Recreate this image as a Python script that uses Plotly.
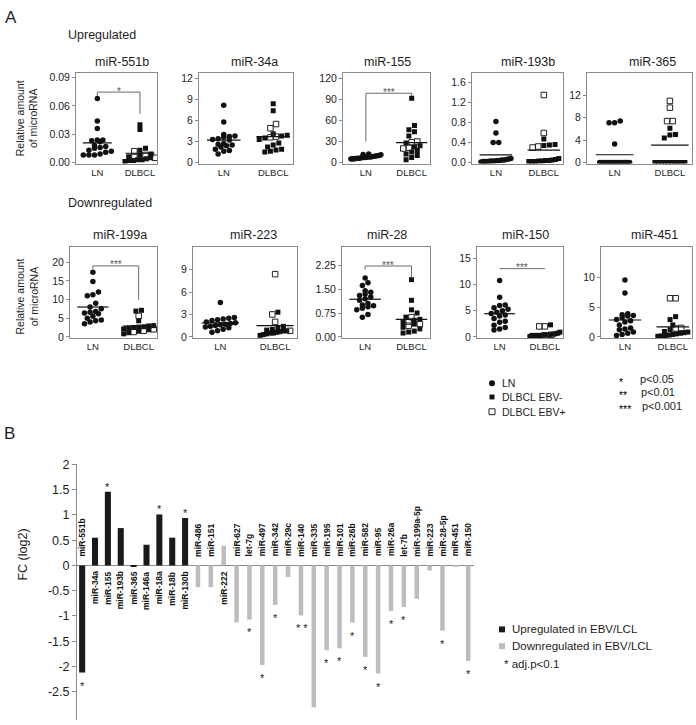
import numpy as np
import plotly.graph_objects as go

W, H = 696, 725
FONT = "Arial, Liberation Sans, sans-serif"
TXT = "#1e1e1e"
FRAME = "#8a8a8a"

# ------------------------------------------------------------------ data (panel A)
panel_names = ["miR-551b", "miR-34a", "miR-155", "miR-193b", "miR-365",
               "miR-199a", "miR-223", "miR-28", "miR-150", "miR-451"]

ln_551b = [0.068, 0.044, 0.036, 0.024, 0.024, 0.023, 0.022, 0.018, 0.017, 0.016, 0.015, 0.013, 0.012, 0.011, 0.009, 0.008, 0.008, 0.008]
neg_551b = [0.040, 0.035, 0.015, 0.013, 0.009, 0.008, 0.006, 0.005, 0.004, 0.003, 0.003, 0.002, 0.002, 0.001]
pos_551b = [0.012, 0.008, 0.006, 0.005]

ln_34a = [8.2, 5.8, 4.0, 3.8, 3.7, 3.6, 3.4, 3.3, 3.2, 2.7, 2.6, 2.5, 2.4, 2.2, 1.9, 1.7, 1.6, 1.2]
neg_34a = [8.4, 7.4, 4.1, 3.9, 3.8, 3.5, 3.3, 2.8, 2.5, 2.2, 1.9, 1.8, 1.6, 1.5]
pos_34a = [5.5, 4.9, 3.7, 3.6]

ln_155 = [12, 11.5, 11, 10, 9.5, 9, 8.5, 8, 8, 7.5, 7, 7, 6.5, 6, 6, 5.5, 5, 5]
neg_155 = [92, 53, 47, 44, 38, 28, 24, 22, 17, 15, 12, 10, 7, 4]
pos_155 = [30, 29, 21, 20]

ln_193b = [0.82, 0.59, 0.40, 0.40, 0.08, 0.07, 0.06, 0.05, 0.05, 0.04, 0.04, 0.03, 0.03, 0.03, 0.02, 0.02, 0.02, 0.01]
neg_193b = [0.47, 0.36, 0.35, 0.34, 0.08, 0.06, 0.05, 0.04, 0.04, 0.03, 0.03, 0.02, 0.02, 0.02]
pos_193b = [1.35, 0.59, 0.32, 0.30]

ln_365 = [7.4, 7.1, 7.1, 3.3, 0, 0, 0, 0, 0, 0, 0, 0, 0, 0, 0, 0, 0, 0]
neg_365 = [6.1, 5.0, 4.9, 4.4, 0, 0, 0, 0, 0, 0, 0, 0, 0, 0]
pos_365 = [11.0, 9.8, 7.4, 7.4]

ln_199a = [17.3, 14.8, 12.0, 11.3, 11.0, 9.0, 8.0, 7.5, 6.8, 6.6, 6.4, 6.2, 5.5, 5.0, 4.5, 4.3, 4.0, 3.5]
neg_199a = [7.1, 6.9, 4.3, 3.0, 2.9, 2.7, 2.6, 2.5, 2.3, 2.1, 1.9, 1.5, 1.1, 0.8]
pos_199a = [5.6, 2.0, 1.6, 1.3]

ln_223 = [4.6, 2.6, 2.5, 2.4, 2.3, 2.2, 2.0, 1.9, 1.8, 1.7, 1.6, 1.5, 1.4, 1.3, 1.2, 1.0, 0.8, 0.6]
neg_223 = [3.3, 1.4, 1.2, 1.0, 0.9, 0.8, 0.8, 0.7, 0.6, 0.5, 0.5, 0.4, 0.3, 0.2]
pos_223 = [8.4, 3.0, 2.0, 0.8]

ln_28 = [1.85, 1.70, 1.62, 1.45, 1.40, 1.35, 1.30, 1.25, 1.20, 1.15, 1.05, 1.00, 0.98, 0.95, 0.90, 0.85, 0.70, 0.62]
neg_28 = [1.80, 1.15, 0.85, 0.75, 0.62, 0.55, 0.52, 0.45, 0.40, 0.30, 0.25, 0.18, 0.15, 0.12]
pos_28 = [0.62, 0.48, 0.40, 0.35]

ln_150 = [10.8, 7.6, 6.1, 6.0, 5.6, 5.3, 5.0, 4.7, 4.5, 4.2, 4.0, 3.5, 3.0, 2.8, 2.2, 1.8, 1.5, 1.3]
neg_150 = [2.3, 0.9, 0.7, 0.6, 0.5, 0.4, 0.35, 0.3, 0.25, 0.2, 0.15, 0.1, 0.1, 0.05]
pos_150 = [2.0, 2.0, 0.4, 0.3]

ln_451 = [9.6, 7.4, 3.9, 3.7, 3.6, 3.5, 3.2, 2.9, 2.7, 2.5, 2.0, 1.5, 1.3, 1.2, 0.8, 0.6, 0.4, 0.2]
neg_451 = [3.4, 2.9, 2.0, 1.2, 0.9, 0.8, 0.7, 0.6, 0.5, 0.4, 0.3, 0.2, 0.15, 0.1]
pos_451 = [6.5, 6.5, 1.5, 1.4]

panel_data = [
    (ln_551b, neg_551b, pos_551b), (ln_34a, neg_34a, pos_34a), (ln_155, neg_155, pos_155),
    (ln_193b, neg_193b, pos_193b), (ln_365, neg_365, pos_365), (ln_199a, neg_199a, pos_199a),
    (ln_223, neg_223, pos_223), (ln_28, neg_28, pos_28), (ln_150, neg_150, pos_150),
    (ln_451, neg_451, pos_451),
]

# tick labels for panel A
ytick_vals = [
    [0, 0.03, 0.06, 0.09], [0, 3, 6, 9, 12], [0, 30, 60, 90, 120], [0, 0.4, 0.8, 1.2, 1.6], [0, 4, 8, 12],
    [0, 5, 10, 15, 20], [0, 3, 6, 9], [0, 0.75, 1.5, 2.25], [0, 5, 10, 15], [0, 5, 10],
]
ytick_text = [
    ["0.00", "0.03", "0.06", "0.09"], ["0", "3", "6", "9", "12"], ["0", "30", "60", "90", "120"],
    ["0.0", "0.4", "0.8", "1.2", "1.6"], ["0", "4", "8", "12"],
    ["0", "5", "10", "15", "20"], ["0", "3", "6", "9"], ["0.00", "0.75", "1.50", "2.25"],
    ["0", "5", "10", "15"], ["0", "5", "10"],
]
group_labels = ["LN", "DLBCL"]

# ------------------------------------------------------------------ data (panel B)
bar_names = ["miR-551b", "miR-34a", "miR-155", "miR-193b", "miR-365", "miR-146a", "miR-18a", "miR-18b",
             "miR-130b", "miR-486", "miR-151", "miR-222", "miR-627", "let-7g", "miR-497", "miR-342",
             "miR-29c", "miR-140", "miR-335", "miR-195", "miR-101", "miR-26b", "miR-582", "miR-95",
             "miR-26a", "let-7b", "miR-199a-5p", "miR-223", "miR-28-5p", "miR-451", "miR-150"]
bar_fc = [-2.12, 0.55, 1.46, 0.74, -0.03, 0.41, 1.01, 0.55, 0.94, -0.43, -0.43, 0.39, -1.13, -1.07,
          -1.97, -0.78, -0.23, -0.99, -2.81, -1.68, -1.64, -1.13, -1.81, -2.14, -0.90, -0.82, -0.66,
          -0.10, -1.29, -0.03, -1.89]
bar_dir = ["up"] * 9 + ["down"] * 22
bar_sig = ["*", "", "*", "", "", "", "*", "", "*", "", "", "", "", "*", "*", "*", "", "* *", "",
           "*", "*", "*", "*", "*", "*", "*", "", "", "*", "", "*"]
bar_yticks = [2, 1.5, 1, 0.5, 0, -0.5, -1, -1.5, -2, -2.5]
bar_yticktext = ["2", "1.5", "1", "0.5", "0", "-0.5", "-1", "-1.5", "-2", "-2.5"]

# ------------------------------------------------------------------ layout config (pixels)
def pxx(x):
    return x / W


def pxy(y):
    return 1 - y / H


boxes = [  # x0, x1, y0(top), y1(bottom)
    (76, 157, 68, 160), (199, 293, 68, 160), (343, 430, 68, 160), (472, 563, 68, 160), (587, 692, 68, 160),
    (70, 157, 245, 337), (193, 297, 245, 337), (342, 430, 245, 337), (477, 563, 245, 337), (601, 692, 245, 337),
]
ytops = [0.095, 12.8, 128, 1.79, 16.0, 24, 12, 2.82, 17.2, 15.1]
title_x = [122, 254, 387, 528, 652, 120, 253, 387, 525, 654]
title_y = [57, 57, 57, 57, 57, 233, 233, 233, 233, 233]
brackets = {  # panel index: (left leg bottom, top, right leg bottom, label)
    0: (0.0705, 0.0747, 0.0516, "*"),
    2: (30, 99, 95, "***"),
    5: (18.2, 19.0, 9.9, "***"),
    7: (2.12, 2.23, 1.85, "***"),
    8: (13.1, 13.1, 13.1, "***"),
}
XR = [-0.5, 1.4]


def swarm(vals, ppu_y, ppu_x, max_w=30.0, step=5.6, row_h=4.6):
    vals = np.asarray(vals, float)
    order = np.argsort(vals, kind="stable")
    offs = np.zeros(len(vals))
    rows, cur, start = [], [], None
    for i in order:
        v = vals[i]
        if cur and (v - start) * ppu_y > row_h:
            rows.append(cur)
            cur = []
        if not cur:
            start = v
        cur.append(i)
    if cur:
        rows.append(cur)
    for r in rows:
        n = len(r)
        s = step if n == 1 else min(step, max_w / (n - 1))
        for j, i in enumerate(r):
            offs[i] = (j - (n - 1) / 2) * s / ppu_x
    return offs


fig = go.Figure()
layout = dict(
    width=W, height=H, margin=dict(l=0, r=0, t=0, b=0), showlegend=False,
    paper_bgcolor="white", plot_bgcolor="white", font=dict(family=FONT, color=TXT),
)
annotations = []
shapes = []

for k in range(10):
    ax = k + 1
    x0, x1, y0, y1 = boxes[k]
    lo = -0.012 * ytops[k]
    hi = ytops[k]
    ppu_y = (y1 - y0) / (hi - lo)
    ppu_x = (x1 - x0) / (XR[1] - XR[0])
    ln, neg, pos = panel_data[k]
    dl = list(neg) + list(pos)
    kinds = ["neg"] * len(neg) + ["pos"] * len(pos)
    off_ln = swarm(ln, ppu_y, ppu_x)
    off_dl = swarm(dl, ppu_y, ppu_x)
    xa, ya = f"x{ax}", f"y{ax}"

    fig.add_trace(go.Scatter(x=0 + off_ln, y=ln, mode="markers", xaxis=xa, yaxis=ya,
                             marker=dict(symbol="circle", size=5.5, color="#111"), hoverinfo="y"))
    dl_arr = np.array(dl)
    kinds = np.array(kinds)
    fig.add_trace(go.Scatter(x=1 + off_dl[kinds == "neg"], y=dl_arr[kinds == "neg"], mode="markers",
                             xaxis=xa, yaxis=ya, marker=dict(symbol="square", size=5, color="#111"),
                             hoverinfo="y"))
    fig.add_trace(go.Scatter(x=1 + off_dl[kinds == "pos"], y=dl_arr[kinds == "pos"], mode="markers",
                             xaxis=xa, yaxis=ya,
                             marker=dict(symbol="square-open", size=5.5, color="#222",
                                         line=dict(width=1, color="#222")), hoverinfo="y"))
    for gx, vals in ((0, ln), (1, dl)):
        m = float(np.mean(vals))
        fig.add_trace(go.Scatter(x=[gx - 0.34, gx + 0.34], y=[m, m], mode="lines", xaxis=xa, yaxis=ya,
                                 line=dict(color="#111", width=1.2), hoverinfo="skip"))

    layout[f"xaxis{ax}"] = dict(
        domain=[pxx(x0), pxx(x1)], anchor=ya, range=XR, tickvals=[0, 1], ticktext=group_labels,
        showline=True, mirror=True, linecolor=FRAME, linewidth=1, ticks="", showgrid=False,
        zeroline=False, tickfont=dict(size=9.5, color=TXT, family=FONT), fixedrange=True)
    layout[f"yaxis{ax}"] = dict(
        domain=[pxy(y1), pxy(y0)], anchor=xa, range=[lo, hi], tickvals=ytick_vals[k],
        ticktext=ytick_text[k], showline=True, mirror=True, linecolor=FRAME, linewidth=1,
        ticks="outside", ticklen=3, tickcolor=FRAME, showgrid=False, zeroline=False,
        tickfont=dict(size=10.5, color=TXT, family=FONT), fixedrange=True)

    annotations.append(dict(text=panel_names[k], x=pxx(title_x[k]), y=pxy(title_y[k]), xref="paper",
                            yref="paper", showarrow=False, font=dict(size=12.5, color=TXT),
                            xanchor="center", yanchor="middle"))

    if k in brackets:
        lb, top, rb, lab = brackets[k]
        shapes.append(dict(type="path", xref=xa, yref=ya,
                           path=f"M 0,{lb} L 0,{top} L 1,{top} L 1,{rb}",
                           line=dict(color="#6a6a6a", width=1)))
        annotations.append(dict(text=lab, x=0.5, y=top, xref=xa, yref=ya, showarrow=False,
                                yanchor="middle", xanchor="center", yshift=1,
                                font=dict(size=10, color="#555")))

# y-axis titles panel A
for yc in (114, 295):
    annotations.append(dict(text="Relative amount<br>of microRNA", x=pxx(27), y=pxy(yc), xref="paper",
                            yref="paper", showarrow=False, textangle=-90, font=dict(size=10.5, color=TXT),
                            xanchor="center", yanchor="middle"))

# section labels
annotations += [
    dict(text="A", x=pxx(3), y=pxy(12), xref="paper", yref="paper", showarrow=False, xanchor="left",
         yanchor="middle", font=dict(size=17, color=TXT)),
    dict(text="B", x=pxx(2), y=pxy(434), xref="paper", yref="paper", showarrow=False, xanchor="left",
         yanchor="middle", font=dict(size=17, color=TXT)),
    dict(text="Upregulated", x=pxx(66), y=pxy(29), xref="paper", yref="paper", showarrow=False,
         xanchor="left", yanchor="middle", font=dict(size=12.5, color=TXT)),
    dict(text="Downregulated", x=pxx(66), y=pxy(200), xref="paper", yref="paper", showarrow=False,
         xanchor="left", yanchor="middle", font=dict(size=12.5, color=TXT)),
]

# legend panel A
leg_items = [("LN", 383), ("DLBCL EBV-", 397), ("DLBCL EBV+", 412)]
for txt, yy in leg_items:
    annotations.append(dict(text=txt, x=pxx(500), y=pxy(yy), xref="paper", yref="paper", showarrow=False,
                            xanchor="left", yanchor="middle", font=dict(size=10.5, color=TXT)))
shapes.append(dict(type="circle", xref="paper", yref="paper", x0=pxx(489), x1=pxx(495), y0=pxy(386),
                   y1=pxy(380), fillcolor="#111", line=dict(width=0)))
shapes.append(dict(type="rect", xref="paper", yref="paper", x0=pxx(489.5), x1=pxx(494.5), y0=pxy(399.5),
                   y1=pxy(394.5), fillcolor="#111", line=dict(width=0)))
shapes.append(dict(type="rect", xref="paper", yref="paper", x0=pxx(489), x1=pxx(495), y0=pxy(415),
                   y1=pxy(409), fillcolor="white", line=dict(width=1, color="#222")))
for stars, ptxt, yy, xt in (("*", "p<0.05", 379, 638), ("**", "p<0.01", 392, 639), ("***", "p<0.001", 406, 640)):
    annotations.append(dict(text=stars, x=pxx(617), y=pxy(yy + 3), xref="paper", yref="paper",
                            showarrow=False, xanchor="left", yanchor="middle", font=dict(size=10.5, color="#000")))
    annotations.append(dict(text=ptxt, x=pxx(xt), y=pxy(yy), xref="paper", yref="paper", showarrow=False,
                            xanchor="left", yanchor="middle", font=dict(size=11, color=TXT)))

# ------------------------------------------------------------------ panel B bars
idx = list(range(len(bar_names)))
colors = ["#1a1a1a" if d == "up" else "#bdbdbd" for d in bar_dir]
widths = [0.47 if d == "up" else 0.35 for d in bar_dir]
fig.add_trace(go.Bar(x=idx, y=bar_fc, width=widths, marker=dict(color=colors, line=dict(width=0)),
                     xaxis="x11", yaxis="y11", hovertext=bar_names, hoverinfo="text+y"))

layout["xaxis11"] = dict(domain=[pxx(77), pxx(474)], anchor="y11", range=[-0.4, 30.45], showline=False,
                         showticklabels=False, ticks="", showgrid=False, zeroline=False, fixedrange=True)
layout["yaxis11"] = dict(domain=[pxy(725), pxy(465)], anchor="x11", range=[-3.06, 2.01],
                         tickvals=bar_yticks, ticktext=bar_yticktext, showline=True, linecolor=FRAME,
                         linewidth=1, ticks="outside", ticklen=4, tickcolor=FRAME, showgrid=False,
                         zeroline=True, zerolinecolor=FRAME, zerolinewidth=1,
                         tickfont=dict(size=12.5, color=TXT, family=FONT), fixedrange=True)
annotations.append(dict(text="FC (log2)", x=pxx(23), y=pxy(557), xref="paper", yref="paper",
                        showarrow=False, textangle=-90, font=dict(size=12.5, color=TXT),
                        xanchor="center", yanchor="middle"))

for i, (name, v, d, s) in enumerate(zip(bar_names, bar_fc, bar_dir, bar_sig)):
    if abs(v) > 0.05:
        below = v > 0
    else:
        below = d == "up"
    annotations.append(dict(text=f"<b>{name}</b>", x=i, y=0, xref="x11", yref="y11", showarrow=False,
                            textangle=-90, xanchor="center", yanchor="top" if below else "bottom",
                            yshift=-4 if below else 7, font=dict(size=8.5, color="#111", family=FONT)))
    if s:
        annotations.append(dict(text=s, x=i + (0.12 if s == "* *" else 0), y=v, xref="x11", yref="y11",
                                showarrow=False, xanchor="center", yanchor="middle",
                                yshift=5 if v > 0 else -13, font=dict(size=11, color="#222")))

# legend panel B
shapes.append(dict(type="rect", xref="paper", yref="paper", x0=pxx(499), x1=pxx(505), y0=pxy(636),
                   y1=pxy(630), fillcolor="#1a1a1a", line=dict(width=0)))
shapes.append(dict(type="rect", xref="paper", yref="paper", x0=pxx(499), x1=pxx(505), y0=pxy(653),
                   y1=pxy(647), fillcolor="#bdbdbd", line=dict(width=0)))
for txt, yy, xx in (("Upregulated in EBV/LCL", 633, 510), ("Downregulated in EBV/LCL", 650, 510),
                    ("* adj.p<0.1", 668, 502)):
    annotations.append(dict(text=txt, x=pxx(xx), y=pxy(yy), xref="paper", yref="paper", showarrow=False,
                            xanchor="left", yanchor="middle", font=dict(size=11.5, color=TXT)))

layout["annotations"] = annotations
layout["shapes"] = shapes
fig.update_layout(**layout)
fig.write_html(
    "out.html",
    config={"displayModeBar": False},
    post_script="document.body.style.margin='0';document.body.style.padding='0';"
                "document.body.style.overflow='hidden';",
)
